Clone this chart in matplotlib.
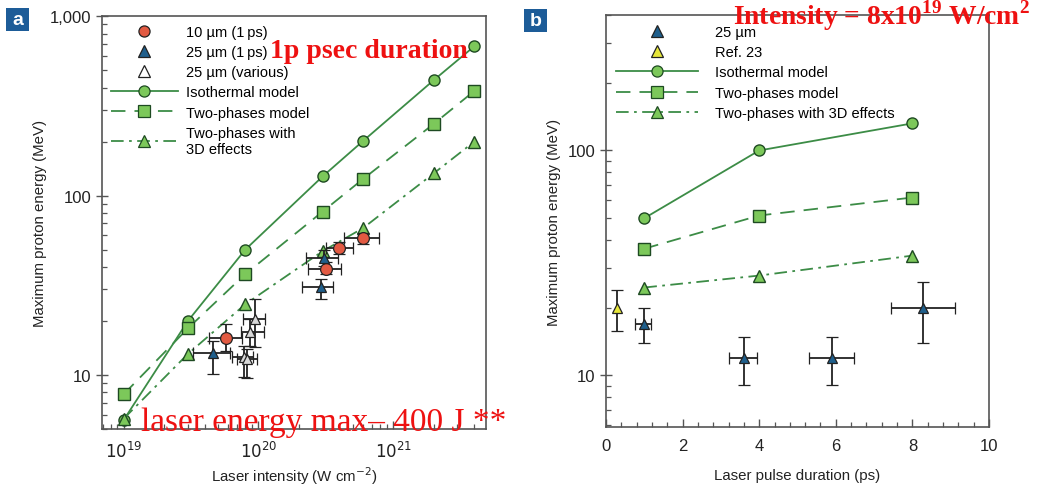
import matplotlib
matplotlib.use("Agg")
import matplotlib.pyplot as plt
import numpy as np
from matplotlib.ticker import LogLocator, NullFormatter, MultipleLocator
from matplotlib.lines import Line2D
from matplotlib.patches import Rectangle

plt.rcParams['font.family'] = ['Liberation Sans', 'DejaVu Sans']
plt.rcParams['mathtext.fontset'] = 'custom'
plt.rcParams['mathtext.rm'] = 'Liberation Serif:bold'
plt.rcParams['mathtext.bf'] = 'Liberation Serif:bold'

# ---------------- Panel a data ----------------
model_int = [1e19, 3e19, 8e19, 3e20, 6e20, 2e21, 4e21]
iso_a = [5.6, 20, 50, 128, 202, 440, 680]
two_a = [7.8, 18.2, 36.5, 81.5, 124, 251, 383]
td_a = [5.7, 13.1, 24.8, 49, 66, 133, 200]

red_x = [5.8e19, 3.2e20, 4.0e20, 6.0e20]
red_y = [16, 39, 50.8, 58]
red_xlo = [4.3e19, 2.35e20, 3.2e20, 4.3e20]
red_xhi = [7.6e19, 4.1e20, 5.0e20, 7.9e20]
red_ylo = [13.6, 36.4, 47, 53.4]
red_yhi = [19.2, 42.4, 54.8, 62]

blue_x = [4.6e19, 3.05e20, 2.9e20]
blue_y = [13.2, 44.7, 30.8]
blue_xlo = [3.3e19, 2.24e20, 2.1e20]
blue_xhi = [6.2e19, 3.9e20, 3.6e20]
blue_ylo = [10.1, 40.3, 26.4]
blue_yhi = [15.5, 50, 34.1]

gray_x = [9.5e19, 8.7e19, 7.8e19, 8.3e19]
gray_y = [20.4, 17.3, 12.6, 12.2]
gray_xlo = [7.7e19, 7.4e19, 6.4e19, 6.9e19]
gray_xhi = [1.12e20, 1.1e20, 9.2e19, 9.8e19]
gray_ylo = [14.3, 14.5, 9.75, 9.6]
gray_yhi = [26.4, 20.5, 14.5, 14.0]

# ---------------- Panel b data ----------------
dur = [1, 4, 8]
iso_b = [50, 100, 132]
two_b = [36.6, 51.4, 61.8]
td_b = [24.6, 27.8, 34.1]

bb_x = [1.0, 3.6, 5.9, 8.28]
bb_y = [17, 12, 12, 20]
bb_xlo = [0.76, 3.21, 5.3, 7.44]
bb_xhi = [1.17, 3.94, 6.48, 9.11]
bb_ylo = [14, 9.1, 9.1, 13.9]
bb_yhi = [20, 14.9, 14.9, 26.1]

yel_x = [0.3]
yel_y = [20]
yel_ylo = [15.8]
yel_yhi = [24.1]

GREEN = '#3c8c46'
GFACE = '#7cc85a'
GEDGE = '#1e4a22'
RED = '#e25a42'
BLUE = '#1f5f8c'
YEL = '#e6e63a'
GRAYF = '#d8d8d8'
SPINE = '#555555'
TXT = '#222222'
LEGFS = 10.5
LABFS = 10.8
TICKFS = 12

fig = plt.figure(figsize=(10.38, 4.89), dpi=100)
axa = fig.add_axes([0.0983, 0.1207, 0.370, 0.844])
axb = fig.add_axes([0.5838, 0.1247, 0.369, 0.8425])

mk = dict(markersize=8, markeredgecolor=GEDGE, markerfacecolor=GFACE, markeredgewidth=1.0)

def models(ax, x, iso, two, td):
    ax.plot(x, iso, '-', color=GREEN, lw=1.3, marker='o', **mk, zorder=3)
    ax.plot(x, two, color=GREEN, lw=1.3, marker='s', dashes=(8, 5), **mk, zorder=3)
    ax.plot(x, td, color=GREEN, lw=1.3, marker='^', dashes=(7, 3, 1.5, 3), **mk, zorder=3)

def ebar(ax, x, y, xlo, xhi, ylo, yhi, fc, ms=7.5, marker='^'):
    x = np.array(x); y = np.array(y)
    xerr = None
    if xlo is not None:
        xerr = [x - np.array(xlo), np.array(xhi) - x]
    yerr = [y - np.array(ylo), np.array(yhi) - y]
    ax.errorbar(x, y, xerr=xerr, yerr=yerr, fmt=marker, ms=ms, mfc=fc, mec='#222222',
                mew=0.9, ecolor='#222222', elinewidth=1.3, capsize=4, capthick=1.3, zorder=4)

# Panel a
models(axa, model_int, iso_a, two_a, td_a)
ebar(axa, gray_x, gray_y, gray_xlo, gray_xhi, gray_ylo, gray_yhi, GRAYF)
ebar(axa, red_x, red_y, red_xlo, red_xhi, red_ylo, red_yhi, RED, ms=8.5, marker='o')
ebar(axa, blue_x, blue_y, blue_xlo, blue_xhi, blue_ylo, blue_yhi, BLUE)

axa.set_xscale('log'); axa.set_yscale('log')
axa.set_xlim(10**18.84, 10**21.69)
axa.set_ylim(5.0, 1000)
axa.set_yticks([10, 100, 1000], ['10', '100', '1,000'])
axa.set_xticks([1e19, 1e20, 1e21], [r'$10^{19}$', r'$10^{20}$', r'$10^{21}$'])
for t in axa.get_xticklabels():
    t.set_math_fontfamily('dejavusans')
axa.yaxis.set_minor_locator(LogLocator(base=10, subs=np.arange(2, 10)))
axa.xaxis.set_minor_locator(LogLocator(base=10, subs=np.arange(2, 10)))
axa.yaxis.set_minor_formatter(NullFormatter())
axa.xaxis.set_minor_formatter(NullFormatter())
axa.set_ylabel('Maximum proton energy (MeV)', fontsize=LABFS, color=TXT, labelpad=2)
axa.set_xlabel('Laser intensity (W cm$^{-2}$)', fontsize=LABFS, color=TXT, labelpad=3)
axa.xaxis.label.set_math_fontfamily('dejavusans')

# Panel b
models(axb, dur, iso_b, two_b, td_b)
ebar(axb, yel_x, yel_y, None, None, yel_ylo, yel_yhi, YEL)
ebar(axb, bb_x, bb_y, bb_xlo, bb_xhi, bb_ylo, bb_yhi, BLUE)
axb.set_yscale('log')
axb.set_xlim(0, 10)
axb.set_ylim(5.9, 400)
axb.set_yticks([10, 100], ['10', '100'])
axb.yaxis.set_minor_locator(LogLocator(base=10, subs=np.arange(2, 10)))
axb.yaxis.set_minor_formatter(NullFormatter())
axb.set_xticks([0, 2, 4, 6, 8, 10])
axb.xaxis.set_minor_locator(MultipleLocator(0.4))
axb.set_ylabel('Maximum proton energy (MeV)', fontsize=LABFS, color=TXT, labelpad=5)
axb.set_xlabel('Laser pulse duration (ps)', fontsize=LABFS, color=TXT, labelpad=11)

for ax in (axa, axb):
    for s in ax.spines.values():
        s.set_color(SPINE); s.set_linewidth(1.2)
    ax.tick_params(axis='y', which='major', direction='inout', length=8, width=1.0,
                   labelsize=TICKFS, colors=SPINE, labelcolor=TXT)
    ax.tick_params(axis='y', which='minor', direction='in', length=3.5, width=0.9, colors=SPINE)
    ax.tick_params(axis='x', which='major', direction='in', length=6, width=1.0,
                   labelsize=TICKFS, colors=SPINE, labelcolor=TXT, pad=8)
    ax.tick_params(axis='x', which='minor', direction='in', length=3.5, width=0.9, colors=SPINE)

# Legends
def mkh(marker, fc, ls='none', dashes=None, ms=8, ec='#222222'):
    kw = dict(color=GREEN, lw=1.3, marker=marker, markersize=ms, markerfacecolor=fc,
              markeredgecolor=ec, markeredgewidth=0.9, linestyle=ls)
    l = Line2D([], [], **kw)
    if dashes is not None:
        l.set_dashes(dashes)
    return l

ha = [mkh('o', RED, ms=8),
      mkh('^', BLUE),
      mkh('^', 'white'),
      mkh('o', GFACE, ls='-', ec=GEDGE),
      mkh('s', GFACE, ls='--', dashes=(8, 5), ec=GEDGE),
      mkh('^', GFACE, ls='-.', dashes=(7, 3, 1.5, 3), ec=GEDGE)]
la = ['10 \u00b5m (1\u2009ps)', '25 \u00b5m (1\u2009ps)', '25 \u00b5m (various)',
      'Isothermal model', 'Two-phases model', 'Two-phases with\n3D effects']
axa.legend(ha, la, loc='upper left', bbox_to_anchor=(0.0, 1.0), frameon=False,
           fontsize=LEGFS, handlelength=4.6, handletextpad=0.55, labelspacing=0.42,
           borderaxespad=0.3, borderpad=0.3)

hb = [mkh('^', BLUE), mkh('^', YEL),
      mkh('o', GFACE, ls='-', ec=GEDGE),
      mkh('s', GFACE, ls='--', dashes=(8, 5), ec=GEDGE),
      mkh('^', GFACE, ls='-.', dashes=(7, 3, 1.5, 3), ec=GEDGE)]
lb = ['25 \u00b5m', 'Ref. 23', 'Isothermal model', 'Two-phases model',
      'Two-phases with 3D effects']
axb.legend(hb, lb, loc='upper left', bbox_to_anchor=(0.0, 1.0), frameon=False,
           fontsize=LEGFS, handlelength=5.6, handletextpad=1.15, labelspacing=0.42,
           borderaxespad=0.3, borderpad=0.4)

# Panel letters
for (x0, y0, letter) in [(6, 9, 'a'), (524, 10, 'b')]:
    fig.patches.append(Rectangle((x0 / 1038, 1 - (y0 + 23) / 489), 23 / 1038, 23 / 489,
                                 transform=fig.transFigure, facecolor='#1d5c98',
                                 edgecolor='none', zorder=5))
    fig.text((x0 + 11.5) / 1038, 1 - (y0 + 11.5) / 489, letter, color='white',
             fontsize=14, fontweight='bold', ha='center', va='center',
             family=['Liberation Sans', 'DejaVu Sans'], zorder=6)

# Red annotations
fig.text(270 / 1038, 1 - 58 / 489, '1p psec duration', color='#ee1111', fontsize=20,
         fontweight='bold', family=['Liberation Serif', 'DejaVu Serif'], ha='left',
         va='baseline', zorder=10)
fig.text(141 / 1038, 1 - 431 / 489, 'laser energy max\u2013 400 J **', color='#ee1111',
         fontsize=24, family=['Liberation Serif', 'DejaVu Serif'], ha='left',
         va='baseline', zorder=10)
fig.text(733 / 1038, 1 - 25 / 489, 'Intensity = 8x10$^{19}$ W/cm$^{2}$',
         color='#ee1111', fontsize=19.8, fontweight='bold',
         family=['Liberation Serif', 'DejaVu Serif'], ha='left', va='baseline', zorder=10)

fig.savefig('out.png', dpi=100, facecolor='white')
